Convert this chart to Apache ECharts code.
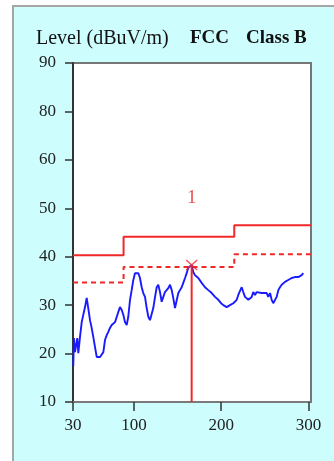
<!DOCTYPE html>
<html>
<head>
<meta charset="utf-8">
<script src="https://cdn.jsdelivr.net/npm/echarts@6/dist/echarts.min.js"></script>
<style>
  html, body { margin: 0; padding: 0; background: #ffffff; }
  #frame { position: absolute; left: 12px; top: 5px; width: 322px; height: 456px;
           background: #cdfdfd; border-left: 2px solid #a6a6a6; border-top: 2px solid #a6a6a6; }
  #chart { position: absolute; left: 0; top: 0; width: 334px; height: 461px; }
</style>
</head>
<body>
<div id="frame"></div>
<div id="chart"></div>
<script>
// Measured trace (frequency MHz, level dBuV/m)
const freqs = [30.3,31.1,32.3,33.4,34.9,36.1,38.0,40.0,41.8,43.8,45.7,47.5,49.5,51.4,53.3,55.2,57.2,59.0,61.0,62.9,
  64.8,66.7,68.7,70.5,72.4,74.4,76.2,78.2,80.1,82.0,83.9,85.9,87.7,89.6,91.6,93.4,95.4,97.3,99.2,101.1,
  103.1,104.9,106.8,108.8,110.6,112.6,114.5,116.4,118.3,120.3,122.1,124.1,126.0,127.8,129.8,131.7,133.6,135.5,137.5,139.3,
  141.3,143.2,145.0,147.0,148.9,150.8,152.7,154.7,156.5,158.5,160.4,162.2,164.2,166.1,168.0,169.9,173.7,177.6,181.4,185.2,
  189.1,192.9,196.7,199.8,202.4,206.3,210.1,213.9,217.8,219.6,223.5,225.3,227.3,231.1,233.0,235.0,236.8,238.8,240.7,242.5,
  246.4,248.3,252.2,254.0,256.0,257.9,259.7,260.9,263.6,265.5,267.4,269.4,271.2,273.2,275.1,276.9,278.9,280.8,282.7,284.6,
  286.6,288.4,290.4,292.3,294.2];
const levels = [17.4,23.2,20.3,20.7,23.2,20.1,23.4,26.5,28.0,29.6,31.5,29.4,26.9,25.3,23.4,21.4,19.3,19.1,19.3,19.7,
  20.3,22.8,23.8,24.5,25.3,25.9,25.5,26.5,26.9,28.6,29.6,29.0,28.0,26.5,25.9,27.6,31.1,33.1,35.2,36.6,
  36.2,36.6,35.6,33.7,32.5,31.7,29.4,27.6,26.9,27.3,29.4,31.7,33.7,34.2,32.7,30.7,31.7,32.7,32.5,33.5,
  34.2,33.1,31.5,29.4,29.6,32.5,33.1,33.7,34.6,35.6,36.6,37.7,38.1,38.3,36.8,36.2,35.6,34.6,33.7,33.1,
  32.5,31.7,31.1,30.4,30.0,29.6,30.0,30.4,31.1,32.1,33.7,32.7,31.7,31.1,30.7,31.7,32.7,32.1,32.7,32.5,
  32.5,32.5,32.5,31.7,32.5,31.1,30.4,30.0,31.7,33.1,33.7,34.2,34.6,34.8,34.8,35.2,35.2,35.6,35.6,35.8,
  35.6,35.8,35.6,36.2,36.6];

// Limit lines (band edges and levels)
const limitEdges = [30, 88, 215, 303];
const limitLevels = [40.3, 44.1, 46.5];
const marginLevels = [34.7, 37.9, 40.5];

// Peak marker
const markerFreq = 166.1;
const markerLevel = 38.3;
const markerLabel = '1';
const markerLabelLevel = 52.1;

// Axis ticks
const xTickValues = [30, 100, 200, 300];
const xTickLabels = ['30', '100', '200', '300'];
const yTickValues = [10, 20, 30, 40, 50, 60, 70, 80];
const yTickLabels = ['10', '20', '30', '40', '50', '60', '80', '90'];

function steps(edges, lv) {
  const out = [];
  for (let i = 0; i < lv.length; i++) {
    out.push([edges[i], lv[i]]);
    out.push([edges[i + 1], lv[i]]);
  }
  return out;
}

const serif = '"Liberation Serif", "DejaVu Serif", serif';
const chart = echarts.init(document.getElementById('chart'), null, { renderer: 'canvas' });
chart.setOption({
  backgroundColor: 'transparent',
  animation: false,
  graphic: [
    { type: 'text', left: 36, top: 29, style: { text: 'Level (dBuV/m)', font: '20px ' + serif, fill: '#111' } },
    { type: 'text', left: 190, top: 29, style: { text: 'FCC', font: 'bold 19px ' + serif, fill: '#111' } },
    { type: 'text', left: 246, top: 29, style: { text: 'Class B', font: 'bold 19px ' + serif, fill: '#111' } }
  ],
  grid: { left: 73, top: 63, right: 23, bottom: 59, show: true, backgroundColor: '#ffffff',
          borderColor: '#777', borderWidth: 2 },
  xAxis: {
    type: 'value', min: 30, max: 303,
    splitLine: { show: false },
    axisLine: { show: true, lineStyle: { color: '#7a7a7a', width: 2 } },
    axisTick: { show: true, customValues: xTickValues, length: 9, lineStyle: { color: '#333', width: 1.5 } },
    axisLabel: { customValues: xTickValues, margin: 15, color: '#222', fontSize: 17, fontFamily: serif,
                 formatter: v => xTickLabels[xTickValues.indexOf(v)] }
  },
  yAxis: {
    type: 'value', min: 10, max: 80, interval: 10,
    splitLine: { show: false },
    axisLine: { show: true, lineStyle: { color: '#333', width: 2 } },
    axisTick: { show: true, length: 8, lineStyle: { color: '#333', width: 1.5 } },
    axisLabel: { margin: 17, color: '#222', fontSize: 17, fontFamily: serif,
                 formatter: v => yTickLabels[yTickValues.indexOf(v)] }
  },
  series: [
    { type: 'line', data: steps(limitEdges, limitLevels), showSymbol: false,
      lineStyle: { color: '#f02828', width: 2 }, z: 3 },
    { type: 'line', data: steps(limitEdges, marginLevels), showSymbol: false,
      lineStyle: { color: '#f02828', width: 2, type: [5, 4] }, z: 3 },
    { type: 'line', data: freqs.map((f, i) => [f, levels[i]]), showSymbol: false,
      lineStyle: { color: '#1a1aff', width: 1.9 }, z: 4 },
    { type: 'line', data: [[markerFreq, 10], [markerFreq, markerLevel]], showSymbol: false,
      lineStyle: { color: '#f02828', width: 2 }, z: 5 },
    { type: 'scatter', data: [[markerFreq, markerLevel]], symbol: 'path://M0,0L10,10M10,0L0,10',
      symbolSize: [11, 10], itemStyle: { color: 'none', borderColor: '#f02828', borderWidth: 1.3 }, z: 6 },
    { type: 'scatter', data: [[markerFreq, markerLabelLevel]], symbolSize: 1,
      itemStyle: { color: 'transparent' },
      label: { show: true, position: 'inside', formatter: markerLabel, color: '#e82020', fontSize: 19, fontFamily: serif }, z: 6 }
  ]
});
</script>
</body>
</html>
